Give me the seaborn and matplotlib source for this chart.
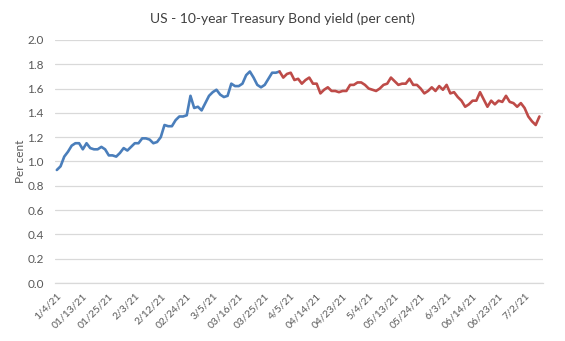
import matplotlib
matplotlib.use("Agg")
import matplotlib.pyplot as plt
import seaborn as sns
import pandas as pd

dates = [
    "1/4", "1/5", "1/6", "1/7", "1/8", "1/11", "1/12", "1/13", "1/14", "1/15",
    "1/19", "1/20", "1/21", "1/22", "1/25", "1/26", "1/27", "1/28", "1/29",
    "2/1", "2/2", "2/3", "2/4", "2/5", "2/8", "2/9", "2/10", "2/11", "2/12",
    "2/16", "2/17", "2/18", "2/19", "2/22", "2/23", "2/24", "2/25", "2/26",
    "3/1", "3/2", "3/3", "3/4", "3/5", "3/8", "3/9", "3/10", "3/11", "3/12",
    "3/15", "3/16", "3/17", "3/18", "3/19", "3/22", "3/23", "3/24", "3/25", "3/26",
    "3/29", "3/30", "3/31",
    "4/1", "4/2", "4/5", "4/6", "4/7", "4/8", "4/9", "4/12", "4/13", "4/14", "4/15", "4/16",
    "4/19", "4/20", "4/21", "4/22", "4/23", "4/26", "4/27", "4/28", "4/29", "4/30",
    "5/3", "5/4", "5/5", "5/6", "5/7", "5/10", "5/11", "5/12", "5/13", "5/14",
    "5/17", "5/18", "5/19", "5/20", "5/21", "5/24", "5/25", "5/26", "5/27", "5/28",
    "6/1", "6/2", "6/3", "6/4", "6/7", "6/8", "6/9", "6/10", "6/11",
    "6/14", "6/15", "6/16", "6/17", "6/18", "6/21", "6/22", "6/23", "6/24", "6/25",
    "6/28", "6/29", "6/30", "7/1", "7/2", "7/6", "7/7", "7/8", "7/9",
]

q1_yield = [
    0.93, 0.96, 1.04, 1.08, 1.13, 1.15, 1.15, 1.10, 1.15, 1.11,
    1.10, 1.10, 1.12, 1.10, 1.05, 1.05, 1.04, 1.07, 1.11,
    1.09, 1.12, 1.15, 1.15, 1.19, 1.19, 1.18, 1.15, 1.16, 1.20,
    1.30, 1.29, 1.29, 1.34, 1.37, 1.37, 1.38, 1.54, 1.44,
    1.45, 1.42, 1.48, 1.54, 1.57, 1.59, 1.55, 1.53, 1.54, 1.64,
    1.62, 1.62, 1.64, 1.71, 1.74, 1.69, 1.63, 1.61, 1.63, 1.68,
    1.73, 1.73, 1.74,
]

q2_yield = [
    1.69, 1.72, 1.73, 1.67, 1.68, 1.64, 1.67, 1.69, 1.64, 1.64, 1.56, 1.59,
    1.61, 1.58, 1.58, 1.57, 1.58, 1.58, 1.63, 1.63, 1.65, 1.65,
    1.63, 1.60, 1.59, 1.58, 1.60, 1.63, 1.64, 1.69, 1.66, 1.63,
    1.64, 1.64, 1.68, 1.63, 1.63, 1.60, 1.56, 1.58, 1.61, 1.58,
    1.62, 1.59, 1.63, 1.56, 1.57, 1.53, 1.50, 1.45, 1.47,
    1.50, 1.50, 1.57, 1.51, 1.45, 1.50, 1.47, 1.50, 1.49, 1.54,
    1.49, 1.48, 1.45, 1.48, 1.44, 1.37, 1.33, 1.30, 1.37,
]

tick_labels = [
    "1/4/21", "01/13/21", "01/25/21", "2/3/21", "2/12/21", "02/24/21",
    "3/5/21", "03/16/21", "03/25/21", "4/5/21", "04/14/21", "04/23/21",
    "5/4/21", "05/13/21", "05/24/21", "6/3/21", "06/14/21", "06/23/21", "7/2/21",
]

n1 = len(q1_yield)
rows = []
for i, v in enumerate(q1_yield):
    rows.append({"idx": i, "date": dates[i], "yield": v, "period": "Q1"})
# red series starts at the last Q1 point for continuity
rows.append({"idx": n1 - 1, "date": dates[n1 - 1], "yield": q1_yield[-1], "period": "Q2"})
for j, v in enumerate(q2_yield):
    rows.append({"idx": n1 + j, "date": dates[n1 + j], "yield": v, "period": "Q2"})
df = pd.DataFrame(rows)

sns.set_theme(style="white")
plt.rcParams["font.family"] = ["Lato", "DejaVu Sans"]

fig = plt.figure(figsize=(5.65, 3.41), dpi=100)
ax = fig.add_axes([0.0973, 0.170, 0.864, 0.713])

sns.lineplot(data=df, x="idx", y="yield", hue="period",
             palette={"Q1": "#4A7EBB", "Q2": "#BE4B48"},
             linewidth=1.9, legend=False, ax=ax, sort=False)

n = len(dates)
ax.set_xlim(-0.5, n - 0.5)
ax.set_ylim(0, 2.0)
ax.set_yticks([i / 10 for i in range(0, 21, 2)])
ax.set_yticklabels([f"{i/10:.1f}" for i in range(0, 21, 2)])
ax.yaxis.grid(True, color="#D9D9D9", linewidth=0.9)
ax.set_axisbelow(True)

major = list(range(0, n, 7))[:len(tick_labels)]
ax.set_xticks(major)
ax.set_xticklabels(tick_labels, rotation=45, ha="right", rotation_mode="anchor")
ax.set_xticks([i for i in range(n + 1) if i not in major], minor=True)
ax.tick_params(axis="x", which="both", direction="out", length=4, width=0.6,
               color="#BFBFBF", labelsize=7.5, labelcolor="#595959", pad=2)
ax.tick_params(axis="y", length=0, labelsize=8.5, labelcolor="#595959", pad=8)

for s in ["top", "right", "left"]:
    ax.spines[s].set_visible(False)
ax.spines["bottom"].set_color("#D9D9D9")
ax.spines["bottom"].set_linewidth(0.9)

ax.set_xlabel("")
ax.set_ylabel("Per cent", fontsize=8.5, color="#595959", labelpad=1)
fig.text(0.5, 0.945, "US - 10-year Treasury Bond yield (per cent)",
         ha="center", va="center", fontsize=10, color="#404040")

fig.savefig("out.png", dpi=100)
